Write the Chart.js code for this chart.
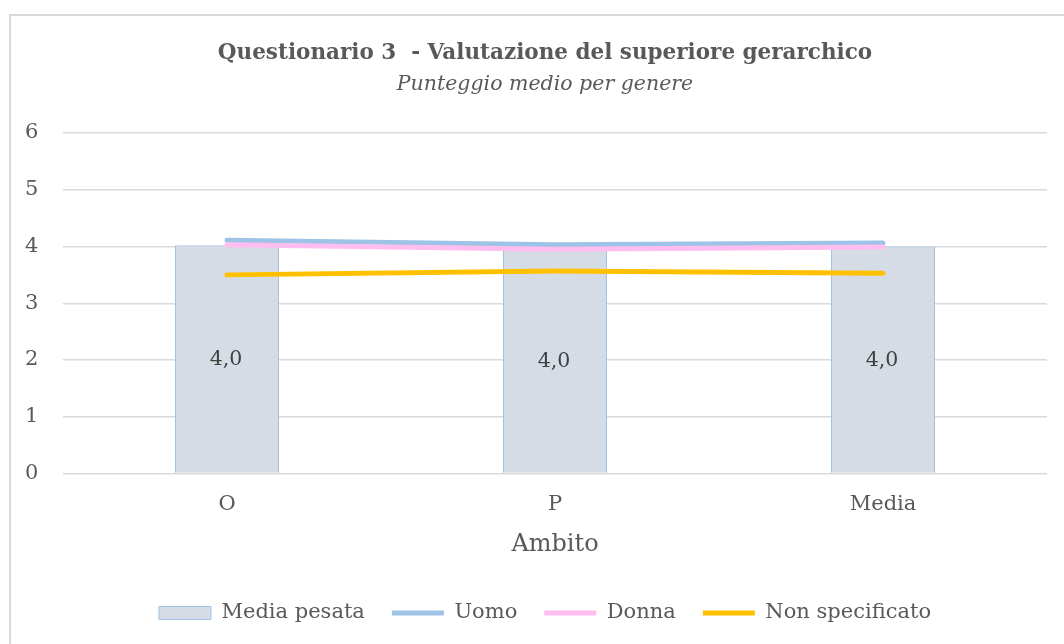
<!DOCTYPE html>
<html>
<head>
<meta charset="utf-8">
<script src="https://cdn.jsdelivr.net/npm/chart.js@4.4.1/dist/chart.umd.min.js"></script>
<style>
  html, body { margin: 0; padding: 0; background: #ffffff; overflow: hidden; }
  #wrap { position: relative; width: 1064px; height: 644px; overflow: hidden; }
  #frame { position: absolute; left: 9px; top: 14px; width: 1120px; height: 700px; border: 2px solid #d9d9d9; box-sizing: border-box; }
  #c { position: absolute; left: 0; top: 0; }
</style>
</head>
<body>
<div id="wrap">
  <div id="frame"></div>
  <canvas id="c" width="1064" height="644"></canvas>
</div>
<script>
const categories = ['O', 'P', 'Media'];
const mediaPesata = [4.02, 3.97, 4.0];
const uomo = [4.11, 4.03, 4.06];
const donna = [4.03, 3.95, 3.99];
const nonSpecificato = [3.50, 3.57, 3.53];
const yTicks = [0, 1, 2, 3, 4, 5, 6];

const FONT = "'DejaVu Serif', 'Liberation Serif', serif";
const TEXT = '#595959';

const barLabels = {
  id: 'barLabels',
  afterDatasetsDraw(chart) {
    const meta = chart.getDatasetMeta(0);
    const ctx = chart.ctx;
    ctx.save();
    ctx.font = "20.5px " + FONT;
    ctx.fillStyle = '#404040';
    ctx.textAlign = 'center';
    ctx.textBaseline = 'middle';
    meta.data.forEach((el, i) => {
      const v = chart.data.datasets[0].data[i];
      ctx.fillText(v.toFixed(1).replace('.', ','), el.x - 1, (el.y + el.base) / 2 + 1);
    });
    ctx.restore();
  }
};

new Chart(document.getElementById('c'), {
  data: {
    labels: categories,
    datasets: [
      { type: 'bar', label: 'Media pesata', data: mediaPesata, backgroundColor: '#d6dce5', borderColor: '#9dc3e6', borderWidth: 1, barPercentage: 1, categoryPercentage: 0.317, order: 4, pointStyle: 'rect' },
      { type: 'line', label: 'Uomo', data: uomo, borderColor: '#9dc3e6', backgroundColor: '#9dc3e6', borderWidth: 5, borderCapStyle: 'round', pointRadius: 0, tension: 0, order: 3, pointStyle: 'line' },
      { type: 'line', label: 'Donna', data: donna, borderColor: '#ffbdf0', backgroundColor: '#ffbdf0', borderWidth: 5, borderCapStyle: 'round', pointRadius: 0, tension: 0, order: 2, pointStyle: 'line' },
      { type: 'line', label: 'Non specificato', data: nonSpecificato, borderColor: '#ffc000', backgroundColor: '#ffc000', borderWidth: 5, borderCapStyle: 'round', pointRadius: 0, tension: 0, order: 1, pointStyle: 'line' }
    ]
  },
  options: {
    responsive: false,
    animation: false,
    layout: { padding: { left: 43, right: 17, top: 0, bottom: 10.5 } },
    plugins: {
      tooltip: { enabled: false },
      title: {
        display: true,
        text: 'Questionario 3  - Valutazione del superiore gerarchico',
        color: TEXT,
        font: { family: FONT, size: 21.5, weight: 'bold' },
        padding: { top: 41, bottom: 1 }
      },
      subtitle: {
        display: true,
        text: 'Punteggio medio per genere',
        color: TEXT,
        font: { family: FONT, size: 20.5, style: 'italic' },
        padding: { top: 5, bottom: 35.6 }
      },
      legend: {
        position: 'bottom',
        labels: {
          color: TEXT,
          font: { family: FONT, size: 21 },
          usePointStyle: true,
          pointStyleWidth: 52,
          boxHeight: 13,
          padding: 27,
          sort: (a, b) => a.datasetIndex - b.datasetIndex
        }
      }
    },
    scales: {
      x: {
        grid: { display: false, drawTicks: false },
        border: { display: false },
        ticks: { color: TEXT, font: { family: FONT, size: 21 }, padding: 18 },
        title: { display: true, text: 'Ambito', color: TEXT, font: { family: FONT, size: 24 }, padding: { top: -4, bottom: 16 } }
      },
      y: {
        min: 0, max: 6,
        afterFit(scale) { scale.width = 20; },
        afterBuildTicks(scale) { scale.ticks = yTicks.map(v => ({ value: v })); },
        grid: { color: '#d9d9d9', lineWidth: 1.5, drawTicks: false },
        border: { display: false },
        ticks: { color: TEXT, font: { family: FONT, size: 21 }, mirror: true, crossAlign: 'far', padding: -38 }
      }
    }
  },
  plugins: [barLabels]
});
</script>
</body>
</html>
